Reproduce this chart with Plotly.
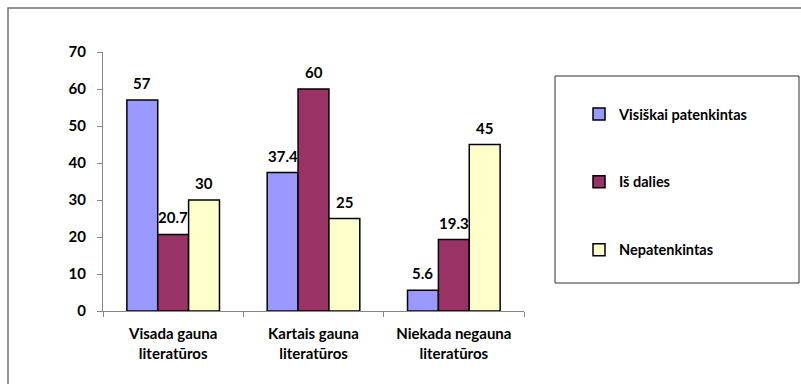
import plotly.graph_objects as go

# Survey answers grouped by how often literature is received
categories = ["Visada gauna<br>literatūros", "Kartais gauna<br>literatūros", "Niekada negauna<br>literatūros"]
series_names = ["Visiškai patenkintas", "Iš dalies", "Nepatenkintas"]
visiskai = [57, 37.4, 5.6]
is_dalies = [20.7, 60, 19.3]
nepatenkintas = [30, 25, 45]
series_values = [visiskai, is_dalies, nepatenkintas]
colors = ["#9999FF", "#993366", "#FFFFCC"]
y_ticks = [0, 10, 20, 30, 40, 50, 60, 70]

W, H = 801, 384
ML, MR, MT, MB = 103, 277, 52, 73
plot_w = W - ML - MR
plot_h = H - MT - MB
bargap = 0.34
bar_px = plot_w / len(categories) * (1 - bargap) / len(series_names)

font_family = "Lato, 'Open Sans', sans-serif"

fig = go.Figure()
for i, (name, vals, col) in enumerate(zip(series_names, series_values, colors)):
    fig.add_trace(go.Bar(
        x=categories, y=vals, name=f"<b>{name}</b>",
        marker=dict(color=col, line=dict(color="#000000", width=1.5)),
        legendgroup=f"g{i}",
    ))
    for cat, v in zip(categories, vals):
        fig.add_annotation(
            x=cat, y=v, text=f"<b>{v:g}</b>", showarrow=False,
            xshift=(i - 1) * bar_px, yshift=17, yanchor="middle",
            font=dict(family=font_family, size=15, color="#000000"),
        )

def px_x(p):
    return (p - ML) / plot_w

def px_y(p):
    return (H - MB - p) / plot_h

shapes = [
    # outer chart frame
    dict(type="rect", xref="paper", yref="paper",
         x0=px_x(8), x1=px_x(830), y0=px_y(420), y1=px_y(8),
         line=dict(color="#707070", width=1.5), layer="below"),
    # legend frame
    dict(type="rect", xref="paper", yref="paper",
         x0=px_x(555), x1=px_x(799), y0=px_y(283), y1=px_y(76),
         line=dict(color="#303030", width=1), layer="below"),
]

fig.update_layout(
    width=W, height=H,
    margin=dict(l=ML, r=MR, t=MT, b=MB, pad=0),
    paper_bgcolor="#FFFFFF", plot_bgcolor="#FFFFFF",
    barmode="group", bargap=bargap, bargroupgap=0,
    font=dict(family=font_family, size=15, color="#000000"),
    shapes=shapes,
    showlegend=True,
    legend=dict(
        x=px_x(579), y=px_y(98), xanchor="left", yanchor="top",
        bgcolor="rgba(0,0,0,0)", borderwidth=0,
        traceorder="grouped", tracegroupgap=46,
        font=dict(family=font_family, size=14.5, color="#000000"),
        itemwidth=30,
    ),
    xaxis=dict(
        showline=True, linecolor="#868686", linewidth=1,
        ticks="outside", tickson="boundaries", ticklen=5, tickcolor="#868686",
        tickfont=dict(family=font_family, size=15, weight="bold"),
        ticklabelstandoff=9,
        showgrid=False, zeroline=False, fixedrange=True,
    ),
    yaxis=dict(
        range=[0, 70], tickvals=y_ticks,
        showline=True, linecolor="#868686", linewidth=1,
        ticks="outside", ticklen=5, tickcolor="#868686",
        tickfont=dict(family=font_family, size=15, weight="bold"),
        ticklabelstandoff=8,
        showgrid=False, zeroline=False, fixedrange=True,
    ),
)

fig.write_html("out.html", config={"displayModeBar": False})
